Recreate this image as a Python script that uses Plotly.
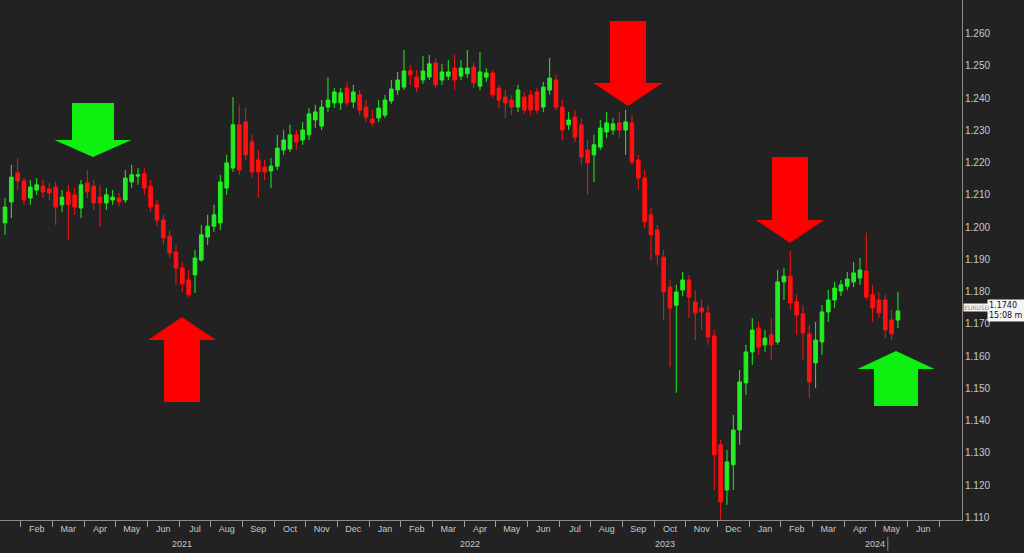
import plotly.graph_objects as go

# ---------------- data ----------------
opens = [1.2013, 1.2078, 1.2168, 1.2143, 1.2090, 1.2115, 1.2127, 1.2118, 1.2124, 1.2069,
         1.2109, 1.2100, 1.2059, 1.2137, 1.2127, 1.2093, 1.2075, 1.2084, 1.2090, 1.2084,
         1.2140, 1.2158, 1.2165, 1.2127, 1.2069, 1.2022, 1.1972, 1.1923, 1.1873, 1.1836,
         1.1852, 1.1898, 1.1969, 1.2003, 1.2013, 1.2121, 1.2183, 1.2317, 1.2326, 1.2264,
         1.2208, 1.2186, 1.2174, 1.2189, 1.2239, 1.2242, 1.2286, 1.2270, 1.2286, 1.2332,
         1.2313, 1.2372, 1.2385, 1.2385, 1.2431, 1.2388, 1.2410, 1.2372, 1.2335, 1.2338,
         1.2347, 1.2391, 1.2425, 1.2434, 1.2484, 1.2465, 1.2456, 1.2465, 1.2509, 1.2456,
         1.2468, 1.2493, 1.2468, 1.2475, 1.2496, 1.2437, 1.2465, 1.2478, 1.2431, 1.2403,
         1.2394, 1.2372, 1.2403, 1.2410, 1.2419, 1.2372, 1.2425, 1.2456, 1.2372, 1.2317,
         1.2341, 1.2317, 1.2239, 1.2224, 1.2248, 1.2295, 1.2301, 1.2323, 1.2301, 1.2323,
         1.2208, 1.2152, 1.2038, 1.1991, 1.1907, 1.1814, 1.1758, 1.1805, 1.1836, 1.1768,
         1.1749, 1.1734, 1.1662, 1.1325, 1.1185, 1.1263, 1.1371, 1.1517, 1.1613, 1.1687,
         1.1635, 1.1666, 1.1644, 1.1830, 1.1848, 1.1768, 1.1731, 1.1669, 1.1579, 1.1644,
         1.1737, 1.1774, 1.1802, 1.1817, 1.1830, 1.1842, 1.1864, 1.1790, 1.1774, 1.1774,
         1.1712, 1.1712]
highs = [1.2090, 1.2193, 1.2214, 1.2152, 1.2146, 1.2152, 1.2146, 1.2137, 1.2140, 1.2115,
         1.2131, 1.2121, 1.2146, 1.2177, 1.2146, 1.2131, 1.2121, 1.2115, 1.2106, 1.2177,
         1.2193, 1.2183, 1.2183, 1.2146, 1.2084, 1.2038, 1.1991, 1.1945, 1.1892, 1.1867,
         1.1929, 1.2007, 1.2038, 1.2069, 1.2162, 1.2224, 1.2403, 1.2379, 1.2369, 1.2286,
         1.2239, 1.2208, 1.2214, 1.2286, 1.2301, 1.2317, 1.2301, 1.2326, 1.2369, 1.2379,
         1.2394, 1.2465, 1.2431, 1.2431, 1.2450, 1.2441, 1.2425, 1.2394, 1.2363, 1.2394,
         1.2410, 1.2456, 1.2481, 1.2549, 1.2503, 1.2487, 1.2530, 1.2534, 1.2524, 1.2506,
         1.2518, 1.2534, 1.2518, 1.2549, 1.2512, 1.2543, 1.2493, 1.2487, 1.2441, 1.2425,
         1.2410, 1.2441, 1.2419, 1.2425, 1.2431, 1.2450, 1.2524, 1.2472, 1.2394, 1.2357,
         1.2363, 1.2338, 1.2270, 1.2286, 1.2332, 1.2357, 1.2338, 1.2357, 1.2363, 1.2347,
         1.2224, 1.2177, 1.2059, 1.2007, 1.1929, 1.1836, 1.1821, 1.1861, 1.1852, 1.1805,
         1.1774, 1.1758, 1.1681, 1.1340, 1.1309, 1.1418, 1.1557, 1.1635, 1.1718, 1.1706,
         1.1681, 1.1718, 1.1867, 1.1873, 1.1926, 1.1790, 1.1758, 1.1697, 1.1706, 1.1758,
         1.1805, 1.1830, 1.1836, 1.1861, 1.1892, 1.1904, 1.1982, 1.1821, 1.1799, 1.1790,
         1.1743, 1.1799]
lows = [1.1976, 1.2028, 1.2115, 1.2069, 1.2069, 1.2100, 1.2090, 1.2084, 1.2007, 1.2047,
        1.1960, 1.2038, 1.2028, 1.2090, 1.2053, 1.2000, 1.2053, 1.2069, 1.2065, 1.2075,
        1.2121, 1.2131, 1.2100, 1.2047, 1.2003, 1.1945, 1.1904, 1.1821, 1.1799, 1.1783,
        1.1796, 1.1892, 1.1945, 1.1985, 1.1991, 1.2100, 1.2171, 1.2162, 1.2208, 1.2152,
        1.2090, 1.2146, 1.2121, 1.2177, 1.2224, 1.2233, 1.2239, 1.2255, 1.2270, 1.2307,
        1.2301, 1.2357, 1.2369, 1.2363, 1.2375, 1.2369, 1.2347, 1.2326, 1.2313, 1.2326,
        1.2338, 1.2382, 1.2410, 1.2425, 1.2441, 1.2419, 1.2444, 1.2456, 1.2431, 1.2441,
        1.2456, 1.2425, 1.2456, 1.2462, 1.2431, 1.2425, 1.2450, 1.2400, 1.2369, 1.2338,
        1.2347, 1.2357, 1.2351, 1.2347, 1.2351, 1.2357, 1.2410, 1.2363, 1.2270, 1.2301,
        1.2264, 1.2193, 1.2100, 1.2140, 1.2239, 1.2276, 1.2286, 1.2276, 1.2224, 1.2193,
        1.2115, 1.1997, 1.1898, 1.1883, 1.1712, 1.1566, 1.1486, 1.1786, 1.1718, 1.1650,
        1.1681, 1.1635, 1.1185, 1.1092, 1.1139, 1.1185, 1.1325, 1.1480, 1.1573, 1.1604,
        1.1613, 1.1588, 1.1635, 1.1774, 1.1743, 1.1666, 1.1588, 1.1470, 1.1501, 1.1604,
        1.1706, 1.1749, 1.1786, 1.1805, 1.1814, 1.1821, 1.1774, 1.1706, 1.1718, 1.1656,
        1.1650, 1.1687]
closes = [1.2062, 1.2155, 1.2143, 1.2084, 1.2124, 1.2131, 1.2109, 1.2106, 1.2062, 1.2093,
          1.2069, 1.2062, 1.2131, 1.2109, 1.2075, 1.2075, 1.2100, 1.2093, 1.2078, 1.2152,
          1.2162, 1.2162, 1.2121, 1.2062, 1.2022, 1.1966, 1.1920, 1.1873, 1.1824, 1.1790,
          1.1904, 1.1976, 1.2003, 1.2038, 1.2140, 1.2199, 1.2317, 1.2177, 1.2224, 1.2171,
          1.2171, 1.2171, 1.2189, 1.2245, 1.2270, 1.2286, 1.2264, 1.2301, 1.2351, 1.2357,
          1.2372, 1.2394, 1.2419, 1.2416, 1.2385, 1.2419, 1.2363, 1.2341, 1.2323, 1.2369,
          1.2394, 1.2428, 1.2456, 1.2484, 1.2472, 1.2434, 1.2484, 1.2506, 1.2441, 1.2481,
          1.2481, 1.2456, 1.2493, 1.2493, 1.2447, 1.2481, 1.2478, 1.2410, 1.2394, 1.2385,
          1.2372, 1.2425, 1.2363, 1.2363, 1.2363, 1.2434, 1.2462, 1.2372, 1.2301, 1.2332,
          1.2279, 1.2217, 1.2199, 1.2255, 1.2307, 1.2323, 1.2320, 1.2301, 1.2326, 1.2202,
          1.2152, 1.2016, 1.1976, 1.1914, 1.1799, 1.1749, 1.1799, 1.1836, 1.1783, 1.1734,
          1.1737, 1.1659, 1.1294, 1.1148, 1.1272, 1.1371, 1.1520, 1.1613, 1.1681, 1.1628,
          1.1656, 1.1635, 1.1830, 1.1848, 1.1765, 1.1727, 1.1672, 1.1520, 1.1650, 1.1737,
          1.1774, 1.1811, 1.1821, 1.1839, 1.1858, 1.1867, 1.1783, 1.1749, 1.1734, 1.1681,
          1.1669, 1.1740]

tick_labels = ["Jan", "Feb", "Mar", "Apr", "May", "Jun", "Jul", "Aug", "Sep", "Oct",
               "Nov", "Dec", "Jan", "Feb", "Mar", "Apr", "May", "Jun", "Jul", "Aug",
               "Sep", "Oct", "Nov", "Dec", "Jan", "Feb", "Mar", "Apr", "May", "Jun"]
year_labels = ["2021", "2022", "2023", "2024"]
price_ticks = [1.26, 1.25, 1.24, 1.23, 1.22, 1.21, 1.20, 1.19, 1.18, 1.17,
               1.16, 1.15, 1.14, 1.13, 1.12, 1.11]

# ---------------- layout constants ----------------
W, H = 1024, 553
PW, PH = 962, 520          # plot area in pixels
BG = "#222222"
GREEN = "#22ee22"
RED = "#ff1111"
ARROW_GREEN = "#10f010"
ARROW_RED = "#ff0000"
AXIS = "#8a8a8a"
TXT = "#c8c8c8"
STEP = 5                   # candles between x labels

x_idx = list(range(len(opens)))
# x labels every STEP candles; an alias maps each tick number to its label
alias = {str(i * STEP): lab for i, lab in enumerate(tick_labels)}
alias[str(len(tick_labels) * STEP)] = " "
year_pos = [27.9, 73.4, 104.2, 137.4]

fig = go.Figure()
fig.add_trace(go.Candlestick(
    x=x_idx, open=opens, high=highs, low=lows, close=closes,
    increasing=dict(line=dict(color=GREEN, width=1), fillcolor=GREEN),
    decreasing=dict(line=dict(color=RED, width=1), fillcolor=RED),
    whiskerwidth=0, showlegend=False, hoverinfo="skip",
))


def px2paper(px, py):
    return px / PW, 1 - py / PH


def arrow_path(cx, tip_y, base_y, head_half, shaft_half, shaft_end_y):
    pts = [(cx - shaft_half, shaft_end_y), (cx + shaft_half, shaft_end_y),
           (cx + shaft_half, base_y), (cx + head_half, base_y), (cx, tip_y),
           (cx - head_half, base_y), (cx - shaft_half, base_y)]
    segs = []
    for k, (a, b) in enumerate(pts):
        X, Y = px2paper(a, b)
        segs.append(("M" if k == 0 else "L") + f"{X:.5f},{Y:.5f}")
    return " ".join(segs) + " Z"


arrows = [
    (93, 157, 140, 38.5, 21, 103, ARROW_GREEN),    # green, pointing down
    (182, 317, 340, 34, 18, 402, ARROW_RED),       # red, pointing up
    (628, 106, 83, 34.5, 18, 21, ARROW_RED),       # red, pointing down
    (790, 243, 220, 34, 18, 157, ARROW_RED),       # red, pointing down
    (896, 351, 369, 38.5, 22, 406, ARROW_GREEN),   # green, pointing up
]
shapes = []
for cx, ty, by, hh, sh, se, col in arrows:
    shapes.append(dict(type="path", xref="paper", yref="paper",
                       path=arrow_path(cx, ty, by, hh, sh, se),
                       fillcolor=col, line=dict(width=0), layer="above"))

# small separator next to the last year label
shapes.append(dict(type="line", xref="x", yref="paper", x0=139.4, x1=139.4,
                   y0=1 - 537 / PH, y1=1 - 551 / PH, line=dict(color=AXIS, width=1)))

annotations = []
for lab, pos in zip(year_labels, year_pos):
    annotations.append(dict(x=pos, y=1 - 544 / PH, xref="x", yref="paper", text=lab,
                            showarrow=False, font=dict(size=9, color=TXT),
                            xanchor="center", yanchor="middle"))

# current price label on the right axis
last = closes[-1]
annotations.append(dict(x=987 / PW, y=last, xref="paper", yref="y",
                        text=f"{last:.4f}<br>15:08 m", showarrow=False,
                        xanchor="left", yanchor="middle", align="left",
                        font=dict(size=8, color="#111111", family="DejaVu Sans"),
                        bgcolor="#f4f4f4", borderpad=1))
annotations.append(dict(x=963 / PW, y=last, xref="paper", yref="y",
                        yshift=3, text="EURUSD", showarrow=False,
                        xanchor="left", yanchor="middle",
                        font=dict(size=6, color="#888888", family="DejaVu Sans"),
                        bgcolor="#f4f4f4", borderpad=0))

y_top = 1.2704
y_bot = 1.1092
x_left = -5 / 6.333
x_right = (PW - 5) / 6.333

fig.update_layout(
    width=W, height=H,
    margin=dict(l=0, r=W - PW, t=0, b=H - PH, autoexpand=False),
    paper_bgcolor=BG, plot_bgcolor=BG,
    font=dict(family="Liberation Sans, Arial, sans-serif", color=TXT),
    showlegend=False, boxgap=0.18,
    shapes=shapes, annotations=annotations,
    xaxis=dict(
        range=[x_left, x_right], rangeslider=dict(visible=False),
        showgrid=False, zeroline=False,
        showline=True, linecolor=AXIS, linewidth=1,
        tickmode="linear", tick0=0, dtick=STEP, labelalias=alias,
        ticks="", tickfont=dict(size=9, color=TXT),
        minor=dict(tickmode="linear", tick0=STEP / 2, dtick=STEP, ticks="outside",
                   ticklen=6, tickcolor="#9a9a9a", tickwidth=1, showgrid=False),
    ),
    yaxis=dict(
        range=[y_bot, y_top], side="right",
        showgrid=False, zeroline=False,
        showline=True, linecolor=AXIS, linewidth=1,
        tickmode="array", tickvals=price_ticks,
        ticktext=[f"{v:.3f}" for v in price_ticks],
        ticks="", tickfont=dict(size=10, color=TXT),
    ),
)

fig.write_html("out.html",
               config={"displayModeBar": False},
               post_script="document.body.style.margin='0';"
                           "document.body.style.background='#222222';")
